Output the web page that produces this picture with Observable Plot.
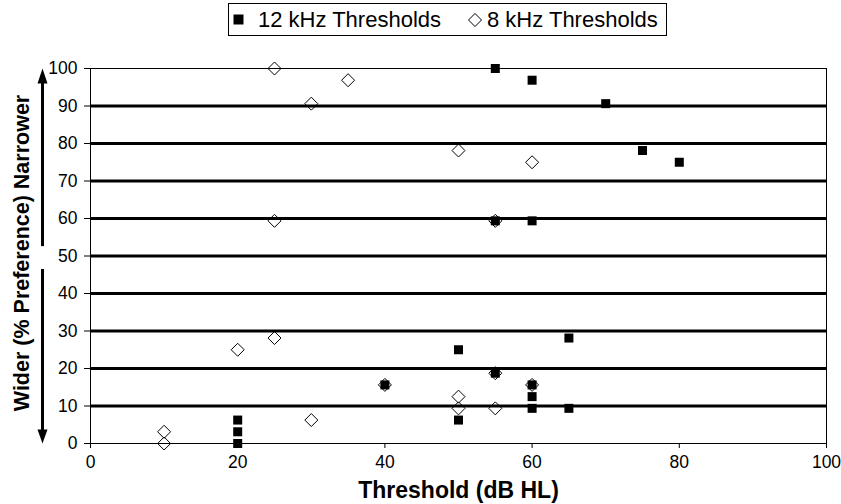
<!DOCTYPE html>
<html>
<head>
<meta charset="utf-8">
<script src="https://cdn.jsdelivr.net/npm/d3@7"></script>
<script src="https://cdn.jsdelivr.net/npm/@observablehq/plot@0.6"></script>
<style>
  html, body { margin: 0; padding: 0; background: #fff; }
  body { width: 841px; height: 504px; overflow: hidden; font-family: "Liberation Sans", Arial, sans-serif; }
  #legend { position: relative; width: 841px; height: 40px; }
  #legend .box { position: absolute; left: 228px; top: 3px; width: 437px; height: 31px; border: 1px solid #000; }
  #legend .item { position: absolute; top: 0; height: 31px; display: flex; align-items: center; font-size: 22px; color: #000; white-space: nowrap; }
  #legend svg { display: block; }
  #chart svg { display: block; }
</style>
</head>
<body>
<div id="legend"></div>
<div id="chart"></div>
<script>
// ---- data ----
const seriesNames = ["12 kHz Thresholds", "8 kHz Thresholds"];
const x12 = [55, 60, 70, 75, 80, 55, 60, 65, 50, 55, 60, 40, 60, 60, 65, 50, 20, 20, 20];
const y12 = [100, 96.875, 90.625, 78.125, 75, 59.375, 59.375, 28.125, 25, 18.75, 15.625, 15.625, 12.5, 9.375, 9.375, 6.25, 6.25, 3.125, 0];
const x8 = [25, 30, 35, 50, 60, 25, 55, 20, 25, 40, 55, 60, 50, 50, 55, 30, 10, 10];
const y8 = [100, 90.625, 96.875, 78.125, 75, 59.375, 59.375, 25, 28.125, 15.625, 18.75, 15.625, 12.5, 9.375, 9.375, 6.25, 3.125, 0];
const xTicks = [0, 20, 40, 60, 80, 100];
const yTicks = [0, 10, 20, 30, 40, 50, 60, 70, 80, 90, 100];
const gridY = [10, 20, 30, 40, 50, 60, 70, 80, 90];
const xTitle = "Threshold (dB HL)";
const yTitle = "Wider (% Preference) Narrower";
// annotation arrows beside the y axis (in y-data units)
const arrowUp = [52.5, 100];
const arrowDown = [46.4, 0];

// ---- build ----
const d12 = x12.map((x, i) => ({x, y: y12[i], series: seriesNames[0]}));
const d8 = x8.map((x, i) => ({x, y: y8[i], series: seriesNames[1]}));

const squareSym = {draw(ctx) { const h = 4.5; ctx.moveTo(-h, -h); ctx.lineTo(h, -h); ctx.lineTo(h, h); ctx.lineTo(-h, h); ctx.closePath(); }};
const diamondSym = {draw(ctx) { const h = 6.5; ctx.moveTo(0, -h); ctx.lineTo(h, 0); ctx.lineTo(0, h); ctx.lineTo(-h, 0); ctx.closePath(); }};
const headUp = {draw(ctx) { ctx.moveTo(0, 0); ctx.lineTo(5, 15); ctx.lineTo(-5, 15); ctx.closePath(); }};
const headDown = {draw(ctx) { ctx.moveTo(0, 0); ctx.lineTo(5, -14); ctx.lineTo(-5, -14); ctx.closePath(); }};

const font = '"Liberation Sans", Arial, sans-serif';

const chart = Plot.plot({
  width: 841,
  height: 464,
  marginTop: 28,
  marginBottom: 61,
  marginLeft: 90,
  marginRight: 15,
  style: {fontFamily: font, color: "#000", background: "#fff", overflow: "visible"},
  x: {domain: [0, 100]},
  y: {domain: [0, 100]},
  marks: [
    Plot.ruleY(gridY, {stroke: "#000", strokeWidth: 3}),
    Plot.frame({stroke: "#000", strokeWidth: 1}),
    Plot.axisX({ticks: xTicks, tickSize: 5, tickPadding: 7, fontSize: 17.5, label: null, stroke: "#000"}),
    Plot.axisY({ticks: yTicks, tickSize: 6, tickPadding: 7, fontSize: 17.5, label: null, stroke: "#000"}),
    Plot.text([xTitle], {frameAnchor: "bottom", dy: 47, lineAnchor: "middle", fontSize: 23, fontWeight: "bold", fill: "#000"}),
    Plot.text([yTitle], {frameAnchor: "left", dx: -68, dy: -3, rotate: -90, lineAnchor: "middle", textAnchor: "middle", fontSize: 21.5, fontWeight: "bold", fill: "#000"}),
    Plot.ruleX([0], {y1: arrowUp[0], y2: arrowUp[1] - 3, dx: -48, stroke: "#000", strokeWidth: 3}),
    Plot.ruleX([0], {y1: arrowDown[0], y2: arrowDown[1] + 3, dx: -48, stroke: "#000", strokeWidth: 3}),
    Plot.dot([arrowUp[1]], {x: () => 0, y: d => d, dx: -48, symbol: headUp, fill: "#000", stroke: "none"}),
    Plot.dot([arrowDown[1]], {x: () => 0, y: d => d, dx: -48, symbol: headDown, fill: "#000", stroke: "none"}),
    Plot.dot(d8, {x: "x", y: "y", symbol: diamondSym, fill: "none", stroke: "#000", strokeWidth: 1}),
    Plot.dot(d12, {x: "x", y: "y", symbol: squareSym, fill: "#000", stroke: "none"})
  ]
});
document.getElementById("chart").appendChild(chart);

// ---- legend ----
const legend = document.getElementById("legend");
const box = document.createElement("div");
box.className = "box";
legend.appendChild(box);
const legendItems = [
  {name: seriesNames[0], left: 4, gap: 14, svg: '<svg width="11" height="11"><rect x="0.5" y="0.5" width="10" height="10" fill="#000"/></svg>'},
  {name: seriesNames[1], left: 238, gap: 4, svg: '<svg width="16" height="16"><path d="M8,1.5L14.5,8L8,14.5L1.5,8Z" fill="none" stroke="#000" stroke-width="1"/></svg>'}
];
for (const it of legendItems) {
  const d = document.createElement("div");
  d.className = "item";
  d.style.left = it.left + "px";
  d.innerHTML = it.svg + '<span style="margin-left:' + it.gap + 'px">' + it.name + "</span>";
  box.appendChild(d);
}
</script>
</body>
</html>
